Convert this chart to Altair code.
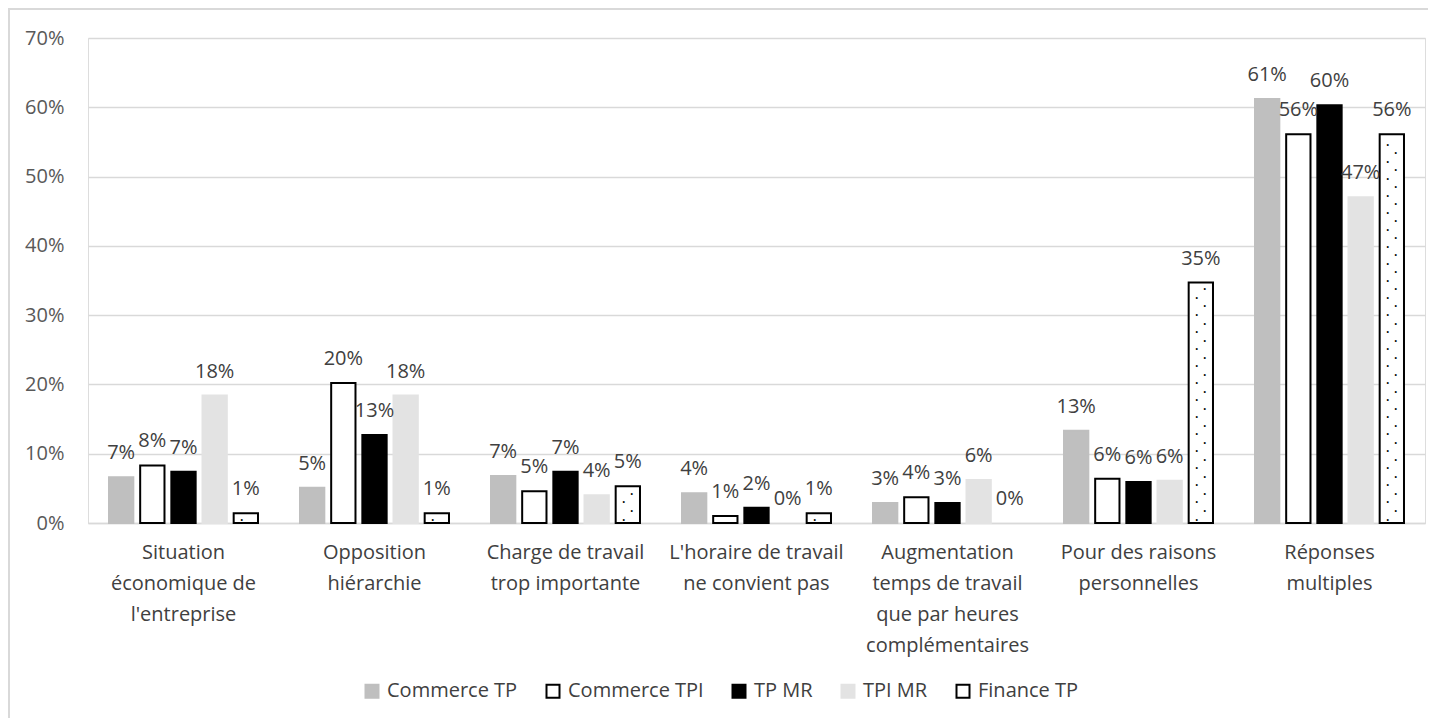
import altair as alt
import pandas as pd

categories = [
    "Situation|économique de|l'entreprise",
    "Opposition|hiérarchie",
    "Charge de travail|trop importante",
    "L'horaire de travail|ne convient pas",
    "Augmentation|temps de travail|que par heures|complémentaires",
    "Pour des raisons|personnelles",
    "Réponses|multiples",
]
series = ["Commerce TP", "Commerce TPI", "TP MR", "TPI MR", "Finance TP"]
commerce_tp = [0.066, 0.051, 0.068, 0.043, 0.029, 0.133, 0.612]
commerce_tpi = [0.083, 0.202, 0.046, 0.010, 0.037, 0.064, 0.561]
tp_mr = [0.074, 0.127, 0.074, 0.022, 0.029, 0.059, 0.603]
tpi_mr = [0.184, 0.184, 0.040, 0.000, 0.062, 0.061, 0.470]
finance_tp = [0.014, 0.014, 0.053, 0.014, 0.000, 0.347, 0.561]

fills = ["#bfbfbf", "#ffffff", "#000000", "#e3e3e3", "#ffffff"]
strokes = ["#bfbfbf", "#000000", "#000000", "#e3e3e3", "#000000"]

FONT = "Open Sans"

rows = []
for s, vals in zip(series, [commerce_tp, commerce_tpi, tp_mr, tpi_mr, finance_tp]):
    for c, v in zip(categories, vals):
        rows.append({"cat": c, "series": s, "value": v})
df = pd.DataFrame(rows)

# dot pattern for Finance TP bars
dots = []
for c, v in zip(categories, finance_tp):
    k = 0
    y = 0.005
    while y < v - 0.004:
        dots.append({"cat": c, "series": "Finance TP", "y": y, "col": k % 2})
        k += 1
        y += 0.0123
dots_df = pd.DataFrame(dots)

x_enc = alt.X("cat:N", sort=categories, title=None,
              scale=alt.Scale(paddingInner=0.22, paddingOuter=0.11),
              axis=alt.Axis(labelExpr="split(datum.label, '|')", labelAngle=0,
                            labelFontSize=20, labelColor="#404040", labelLineHeight=31,
                            labelPadding=19, ticks=False, domainColor="#d9d9d9",
                            domainWidth=1.5, labelFont=FONT))
xo = alt.XOffset("series:N", sort=series, scale=alt.Scale(paddingInner=0.22))

base = alt.Chart(df)
bars = base.transform_filter("datum.value > 0").mark_bar(strokeWidth=2).encode(
    x=x_enc,
    xOffset=xo,
    y=alt.Y("value:Q", title=None,
            scale=alt.Scale(domain=[0, 0.7], nice=False),
            axis=alt.Axis(format=".0%", values=[0, 0.1, 0.2, 0.3, 0.4, 0.5, 0.6, 0.7],
                          labelFontSize=20, labelColor="#595959", labelFont=FONT,
                          domain=False, ticks=False, labelPadding=24,
                          gridColor="#d9d9d9", gridWidth=1.5)),
    fill=alt.Fill("series:N", sort=series, scale=alt.Scale(domain=series, range=fills),
                  legend=alt.Legend(title=None, orient="none", direction="horizontal",
                                    legendX=274, legendY=643, symbolType="square",
                                    symbolSize=169, symbolStrokeWidth=2, labelFontSize=20,
                                    labelColor="#404040", labelFont=FONT,
                                    columnPadding=24, labelOffset=5)),
    stroke=alt.Stroke("series:N", sort=series, scale=alt.Scale(domain=series, range=strokes)),
)

labels = base.mark_text(baseline="bottom", dy=-14, fontSize=20, color="#404040",
                        font=FONT).encode(
    x=alt.X("cat:N", sort=categories),
    xOffset=xo,
    y="value:Q",
    text=alt.Text("value:Q", format=".0%"),
)

dot_left = alt.Chart(dots_df).transform_filter("datum.col == 0").mark_text(
    text="•", fontSize=7, color="#000000", dx=-4).encode(
    x=alt.X("cat:N", sort=categories), xOffset=xo, y="y:Q")
dot_right = alt.Chart(dots_df).transform_filter("datum.col == 1").mark_text(
    text="•", fontSize=7, color="#000000", dx=4).encode(
    x=alt.X("cat:N", sort=categories), xOffset=xo, y="y:Q")

border = alt.Chart(pd.DataFrame({"a": [0]})).mark_rect(
    fill="transparent", stroke="#d9d9d9", strokeWidth=2).encode(
    x=alt.value(-79), x2=alt.value(1341), y=alt.value(-29), y2=alt.value(700))

chart = alt.layer(border, bars, dot_left, dot_right, labels).properties(
    width=1337, height=485,
    autosize=alt.AutoSizeParams(type="none"),
    padding={"left": 80, "top": 30, "right": 3, "bottom": 195},
).configure_view(stroke=None).configure(background="white")

chart.save("out.html", embed_options={"renderer": "svg", "actions": False})
